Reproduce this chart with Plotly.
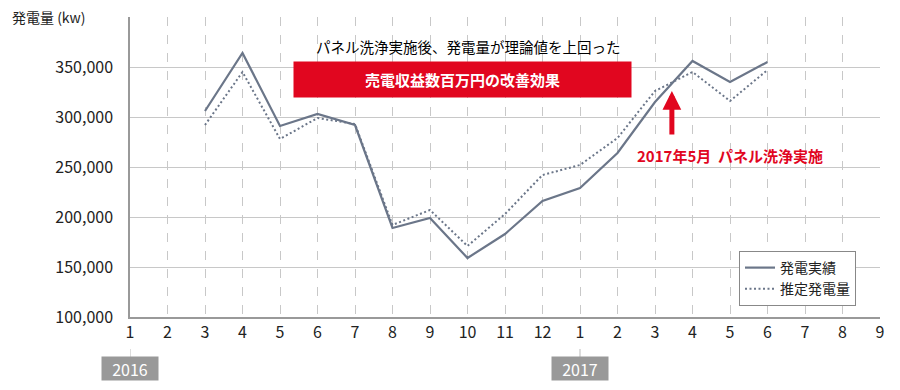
import plotly.graph_objects as go

# ---- data ----
month_labels = ["1","2","3","4","5","6","7","8","9","10","11","12",
                "1","2","3","4","5","6","7","8","9"]
# index positions (0 = 2016-1)
data_idx = list(range(2, 18))  # 2016-3 .. 2017-6
actual = [306000, 364000, 291000, 303000, 292000, 189000, 199000, 159000,
          183000, 216000, 229000, 264000, 315000, 356000, 335000, 355000]
estimated = [292000, 345000, 278000, 299000, 293000, 192000, 207000, 171000,
             203000, 242000, 252000, 279000, 326000, 345000, 316000, 347000]
year_labels = ["2016", "2017"]
year_positions = [0, 12]
series_names = ["発電実績", "推定発電量"]

FONT = "Noto Sans CJK JP"
LINE_COLOR = "#6b7689"
RED = "#e1061f"
GRID = "#c8c8c8"

fig = go.Figure()
fig.add_trace(go.Scatter(x=data_idx, y=actual, mode="lines", name=series_names[0],
                         line=dict(color=LINE_COLOR, width=2.2)))
fig.add_trace(go.Scatter(x=data_idx, y=estimated, mode="lines", name=series_names[1],
                         line=dict(color=LINE_COLOR, width=2, dash="2px,2.5px")))

fig.update_layout(
    width=900, height=390,
    margin=dict(l=130, r=20, t=17, b=73),
    plot_bgcolor="white", paper_bgcolor="white",
    font=dict(family=FONT, color="#222", size=15),
    showlegend=True,
    legend=dict(x=0.812, y=0.22, xanchor="left", yanchor="top",
                bordercolor="#888", borderwidth=1, bgcolor="white",
                font=dict(size=14, color="#222"), tracegroupgap=0,
                itemwidth=30),
    xaxis=dict(range=[0, 20], tickmode="array", tickvals=list(range(21)),
               ticktext=month_labels, showgrid=True, gridcolor=GRID,
               griddash="dash", gridwidth=1, zeroline=False,
               showline=True, linecolor="#999", linewidth=1.5,
               ticks="", tickfont=dict(size=16, color="#222"),
               fixedrange=True, automargin=False),
    yaxis=dict(range=[100000, 400000], tickvals=[100000,150000,200000,250000,300000,350000],
               tickformat=",d", showgrid=True, gridcolor=GRID, gridwidth=1,
               zeroline=False, showline=True, linecolor="#999", linewidth=1.5,
               ticks="", ticklabelstandoff=12, tickfont=dict(size=16, color="#222"),
               fixedrange=True, automargin=False),
)

annotations = [
    dict(text="発電量 (kw)", xref="paper", yref="paper", x=-0.16, y=1.0,
         xanchor="left", yanchor="middle", showarrow=False,
         font=dict(size=14, color="#222")),
    dict(text="パネル洗浄実施後、発電量が理論値を上回った", xref="paper", yref="paper",
         x=(468-130)/750, y=(317-46)/300, xanchor="center", yanchor="middle",
         showarrow=False, font=dict(size=14.5, color="#000")),
    dict(text="<b>売電収益数百万円の改善効果</b>", xref="paper", yref="paper",
         x=(462.5-130)/750, y=(317-79.5)/300, xanchor="center", yanchor="middle",
         showarrow=False, bgcolor=RED, width=337, height=35, borderpad=0,
         font=dict(size=15, color="white")),
    dict(text="<b>2017年5月  パネル洗浄実施</b>", xref="paper", yref="paper",
         x=(730-130)/750, y=(317-155)/300, xanchor="center", yanchor="middle",
         showarrow=False, font=dict(size=15, color=RED)),
    dict(text="", x=14.45, y=326000, ax=14.45, ay=281000, xref="x", yref="y",
         axref="x", ayref="y", showarrow=True, arrowhead=2, arrowsize=0.75,
         arrowwidth=5, arrowcolor=RED),
]
shapes = []
for lab, pos in zip(year_labels, year_positions):
    annotations.append(dict(text=lab, xref="x", yref="paper", x=pos, y=-(368.5-317)/300,
                            xanchor="center", yanchor="middle", showarrow=False,
                            bgcolor="#999999", width=56, height=23, borderpad=0,
                            font=dict(size=16, color="white")))
    shapes.append(dict(type="line", xref="x", yref="paper", x0=pos, x1=pos,
                       y0=-(349-317)/300, y1=-(357-317)/300,
                       line=dict(color="#bbb", width=1)))
fig.update_layout(annotations=annotations, shapes=shapes)

fig.write_html("out.html", config={"displayModeBar": False},
               post_script="document.body.style.margin='0';document.body.style.overflow='hidden';")
